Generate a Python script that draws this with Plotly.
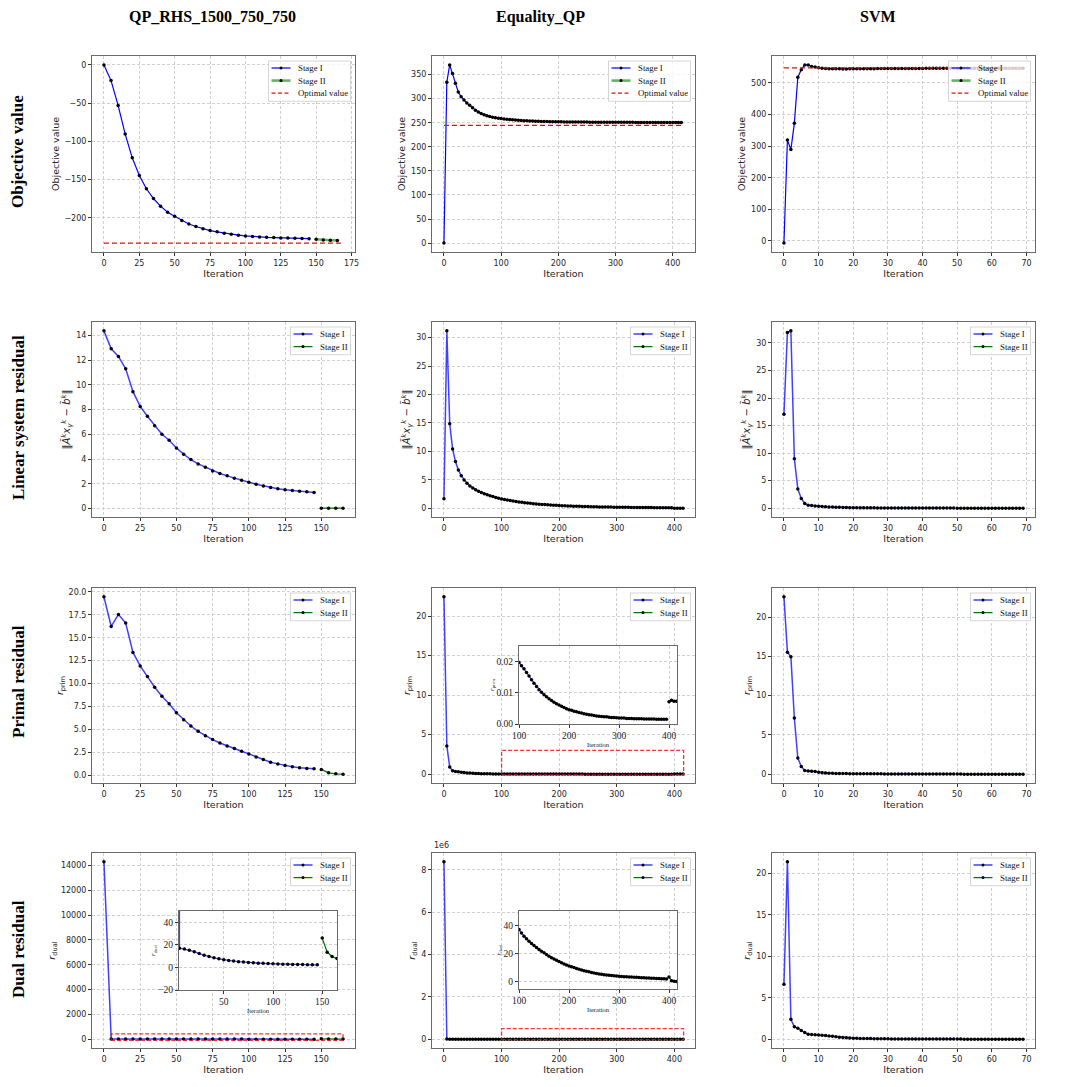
import plotly.graph_objects as go

# ---------------- data ----------------
# iteration grids
qp_it_s1 = list(range(0, 150, 5))
qp_it_s2 = list(range(150, 170, 5))
eq_it_s1 = list(range(0, 400, 5))
eq_it_s2 = list(range(400, 420, 5))
svm_it_s1 = list(range(0, 50))
svm_it_s2 = list(range(50, 70))

# Objective value
qp_obj_s1 = [0, -20.5, -53, -90.5, -121.5, -144.5, -162, -174.7, -184.7, -192.6,
             -198, -203.5, -208, -211.3, -214.4, -216.6, -218.3, -220, -221.4, -222.7,
             -223.6, -224.5, -225, -225.4, -225.8, -226.2, -226.5, -226.7, -227, -227.2]
qp_obj_s2 = [-228, -229, -229.3, -229.5]
qp_opt = -233
qp_opt_x = [0, 169]

eq_obj_s1 = [0, 334, 370, 352, 332, 314, 304, 297, 291, 286,
             281, 276, 272, 269, 266.5, 264.5, 263, 261.5, 260.2, 259.3,
             258.5, 257.7, 257, 256.4, 255.9, 255.4, 255, 254.6, 254.2, 253.9,
             253.6, 253.3, 253.1, 252.9, 252.7, 252.5, 252.3, 252.2, 252.1, 252,
             251.9, 251.8, 251.7, 251.6, 251.5, 251.5, 251.4, 251.3, 251.3, 251.2,
             251.2, 251.1, 251.1, 251, 251, 251, 250.9, 250.9, 250.9, 250.8,
             250.8, 250.8, 250.8, 250.7, 250.7, 250.7, 250.7, 250.6, 250.6, 250.6,
             250.6, 250.6, 250.5, 250.5, 250.5, 250.5, 250.5, 250.5, 250.5, 250.4]
eq_obj_s2 = [250.4, 250.4, 250.4, 250.4]
eq_opt = 244.3
eq_opt_x = [0, 418]

svm_obj_s1 = [-7, 319, 289, 372, 518, 542, 557, 557, 552, 550,
              548, 546.5, 545.5, 545, 544.8, 544.6, 544.5, 544.4, 544.4, 544.5,
              544.6, 544.7, 544.8, 544.9, 545, 545.1, 545.2, 545.3, 545.4, 545.5,
              545.6, 545.6, 545.7, 545.7, 545.8, 545.8, 545.9, 545.9, 546, 546,
              546, 546.1, 546.1, 546.1, 546.2, 546.2, 546.2, 546.3, 546.3, 546.3]
svm_obj_s2 = [546.4, 546.4, 546.4, 546.5, 546.5, 546.5, 546.5, 546.5, 546.6, 546.6,
              546.6, 546.6, 546.6, 546.6, 546.7, 546.7, 546.7, 546.7, 546.7, 546.7]
svm_opt = 547.5
svm_opt_x = [0, 69]

# Linear system residual
qp_lin_s1 = [14.37, 12.92, 12.3, 11.3, 9.45, 8.26, 7.46, 6.7, 6.0, 5.52,
             4.9, 4.39, 3.96, 3.61, 3.34, 3.04, 2.83, 2.64, 2.45, 2.29,
             2.13, 1.97, 1.83, 1.7, 1.59, 1.51, 1.45, 1.4, 1.35, 1.29]
qp_lin_s2 = [0.03, 0.03, 0.03, 0.03]

eq_lin_s1 = [1.64, 31.2, 14.85, 10.4, 8.2, 6.7, 5.73, 4.97, 4.39, 3.92,
             3.55, 3.25, 2.98, 2.75, 2.55, 2.37, 2.2, 2.05, 1.9, 1.77,
             1.63, 1.53, 1.43, 1.34, 1.25, 1.17, 1.1, 1.03, 0.97, 0.91,
             0.85, 0.8, 0.75, 0.71, 0.67, 0.63, 0.59, 0.56, 0.53, 0.5,
             0.47, 0.45, 0.42, 0.4, 0.38, 0.36, 0.34, 0.32, 0.31, 0.29,
             0.28, 0.27, 0.25, 0.24, 0.23, 0.22, 0.21, 0.2, 0.19, 0.18,
             0.17, 0.165, 0.16, 0.15, 0.145, 0.14, 0.13, 0.125, 0.12, 0.115,
             0.11, 0.105, 0.1, 0.097, 0.094, 0.09, 0.087, 0.084, 0.081, 0.078]
eq_lin_s2 = [0.01, 0.01, 0.01, 0.01]

svm_lin_s1 = [17.06, 31.9, 32.2, 9.0, 3.5, 1.75, 0.85, 0.55, 0.5, 0.42,
              0.36, 0.3, 0.26, 0.23, 0.2, 0.18, 0.15, 0.13, 0.11, 0.1,
              0.09, 0.085, 0.08, 0.075, 0.07, 0.065, 0.06, 0.056, 0.053, 0.05,
              0.047, 0.045, 0.043, 0.041, 0.039, 0.037, 0.035, 0.034, 0.033, 0.032,
              0.031, 0.03, 0.029, 0.028, 0.027, 0.026, 0.025, 0.024, 0.023, 0.022]
svm_lin_s2 = [0.012, 0.012, 0.011, 0.011, 0.011, 0.011, 0.01, 0.01, 0.01, 0.01,
              0.01, 0.01, 0.01, 0.01, 0.01, 0.01, 0.01, 0.01, 0.01, 0.01]

# Primal residual
qp_prim_s1 = [19.46, 16.23, 17.54, 16.6, 13.4, 11.92, 10.76, 9.6, 8.62, 7.79,
              6.81, 6.05, 5.36, 4.78, 4.31, 3.88, 3.51, 3.19, 2.9, 2.61,
              2.32, 1.99, 1.7, 1.41, 1.23, 1.05, 0.91, 0.8, 0.72, 0.69]
qp_prim_s2 = [0.62, 0.25, 0.14, 0.11]

eq_prim_s1 = [22.43, 3.57, 0.92, 0.42, 0.34, 0.29, 0.25, 0.2, 0.16, 0.13,
              0.105, 0.085, 0.07, 0.058, 0.048, 0.041, 0.035, 0.03, 0.026, 0.022,
              0.0197, 0.0187, 0.0177, 0.0165, 0.0154, 0.0142, 0.0131, 0.0120, 0.0110, 0.0102,
              0.0094, 0.0087, 0.0081, 0.0075, 0.0070, 0.0065, 0.0061, 0.0057, 0.0053, 0.0049,
              0.0046, 0.0044, 0.0041, 0.0039, 0.0037, 0.0035, 0.0033, 0.0031, 0.0030, 0.0029,
              0.0027, 0.0026, 0.0025, 0.0024, 0.0023, 0.0023, 0.0022, 0.0021, 0.0021, 0.0020,
              0.0019, 0.0019, 0.0019, 0.0018, 0.0018, 0.0018, 0.0017, 0.0017, 0.0017, 0.0017,
              0.0016, 0.0016, 0.0016, 0.0016, 0.0016, 0.0015, 0.0015, 0.0015, 0.0015, 0.0015]
eq_prim_s2 = [0.0071, 0.0076, 0.0073, 0.0073]

svm_prim_s1 = [22.58, 15.52, 14.97, 7.15, 2.07, 0.97, 0.47, 0.42, 0.38, 0.33,
               0.25, 0.2, 0.15, 0.12, 0.11, 0.1, 0.09, 0.085, 0.08, 0.075,
               0.07, 0.066, 0.062, 0.058, 0.055, 0.052, 0.049, 0.046, 0.044, 0.042,
               0.04, 0.038, 0.036, 0.035, 0.034, 0.033, 0.032, 0.031, 0.03, 0.029,
               0.028, 0.027, 0.026, 0.025, 0.024, 0.023, 0.022, 0.021, 0.02, 0.02]
svm_prim_s2 = [0.012, 0.012, 0.011, 0.011, 0.011, 0.011, 0.01, 0.01, 0.01, 0.01,
               0.01, 0.01, 0.01, 0.01, 0.01, 0.01, 0.01, 0.01, 0.01, 0.01]

# Dual residual
qp_dual_s1 = [14300, 17, 16.3, 15.3, 14, 12.3, 10.8, 9.6, 8.5, 7.6,
              6.8, 6.2, 5.6, 5.1, 4.7, 4.4, 4.1, 3.8, 3.6, 3.4,
              3.2, 3.0, 2.9, 2.8, 2.7, 2.6, 2.5, 2.4, 2.35, 2.3]
qp_dual_s2 = [26, 13.5, 9.6, 8]

eq_dual_s1 = [8.38e6, 3000, 400, 200, 140, 110, 95, 85, 77, 70,
              64, 59, 55, 51, 48, 45, 43, 41, 39.5, 38,
              36.9, 34.5, 32.2, 30.4, 28.7, 27.1, 25.6, 24.2, 22.8, 21.6,
              20.5, 19.3, 18.1, 17.1, 16.2, 15.3, 14.4, 13.5, 12.7, 12.0,
              11.3, 10.7, 10.1, 9.5, 8.9, 8.4, 7.9, 7.5, 7.1, 6.7,
              6.3, 6.0, 5.6, 5.4, 5.1, 4.9, 4.7, 4.5, 4.3, 4.1,
              4.0, 3.9, 3.7, 3.6, 3.5, 3.4, 3.3, 3.2, 3.1, 3.0,
              2.9, 2.8, 2.7, 2.6, 2.5, 2.45, 2.4, 2.3, 2.2, 2.1]
eq_dual_s2 = [3.5, 0.9, 0.5, 0.3]

svm_dual_s1 = [6.63, 21.4, 2.41, 1.49, 1.33, 1.04, 0.8, 0.6, 0.56, 0.55,
               0.52, 0.48, 0.45, 0.4, 0.35, 0.3, 0.25, 0.2, 0.17, 0.15,
               0.13, 0.115, 0.1, 0.09, 0.08, 0.072, 0.065, 0.058, 0.052, 0.047,
               0.043, 0.04, 0.037, 0.034, 0.032, 0.03, 0.028, 0.026, 0.025, 0.024,
               0.023, 0.022, 0.021, 0.02, 0.019, 0.018, 0.017, 0.016, 0.016, 0.015]
svm_dual_s2 = [0.012, 0.012, 0.011, 0.011, 0.011, 0.011, 0.01, 0.01, 0.01, 0.01,
               0.01, 0.01, 0.01, 0.01, 0.01, 0.01, 0.01, 0.01, 0.01, 0.01]

column_titles = ["QP_RHS_1500_750_750", "Equality_QP", "SVM"]
row_titles = ["Objective value", "Linear system residual", "Primal residual", "Dual residual"]
y_titles = ["Objective value",
            "‖<i>Ã</i><sup><i>k</i></sup><i>x</i><sub><i>γ</i></sub><sup><i>k</i></sup> − <i>b̃</i><sup><i>k</i></sup>‖",
            "<i>r</i><sub>prim</sub>",
            "<i>r</i><sub>dual</sub>"]
stage_names = ["Stage I", "Stage II"]
opt_name = "Optimal value"

its = [(qp_it_s1, qp_it_s2), (eq_it_s1, eq_it_s2), (svm_it_s1, svm_it_s2)]
series = [
    [(qp_obj_s1, qp_obj_s2), (eq_obj_s1, eq_obj_s2), (svm_obj_s1, svm_obj_s2)],
    [(qp_lin_s1, qp_lin_s2), (eq_lin_s1, eq_lin_s2), (svm_lin_s1, svm_lin_s2)],
    [(qp_prim_s1, qp_prim_s2), (eq_prim_s1, eq_prim_s2), (svm_prim_s1, svm_prim_s2)],
    [(qp_dual_s1, qp_dual_s2), (eq_dual_s1, eq_dual_s2), (svm_dual_s1, svm_dual_s2)],
]
optimal = [(qp_opt, qp_opt_x), (eq_opt, eq_opt_x), (svm_opt, svm_opt_x)]

# ---------------- layout geometry (pixels) ----------------
W, H = 1079, 1087
col_px = [(92, 355), (432, 695), (772, 1035)]
row_px = [(56, 252), (322, 517), (588, 783), (853, 1048)]


def px_x(v):
    return v / W


def px_y(v):
    return 1 - v / H


def xdom(a, b):
    return [px_x(a), px_x(b)]


def ydom(t, b):
    return [px_y(b), px_y(t)]


def mpl_range(vals):
    lo, hi = min(vals), max(vals)
    pad = 0.05 * (hi - lo)
    return [lo - pad, hi + pad]


x_ticks = [list(range(0, 176, 25)), list(range(0, 401, 100)), list(range(0, 71, 10))]
y_ticks = [
    [list(range(-200, 1, 50)), list(range(0, 351, 50)), list(range(0, 501, 100))],
    [list(range(0, 15, 2)), list(range(0, 31, 5)), list(range(0, 31, 5))],
    [[i * 2.5 for i in range(9)], list(range(0, 21, 5)), list(range(0, 21, 5))],
    [list(range(0, 14001, 2000)), [0, 2e6, 4e6, 6e6, 8e6], list(range(0, 21, 5))],
]

SANS = "DejaVu Sans"
SERIF = "Liberation Serif"

axis_common = dict(showline=True, mirror=True, linecolor="#6a6a6a", linewidth=1,
                   ticks="outside", ticklen=3, tickwidth=0.8, tickcolor="#333333",
                   showgrid=True, gridcolor="#d0d0d0", griddash="3px,2px", gridwidth=0.7,
                   zeroline=False, automargin=False,
                   tickfont=dict(family=SANS, size=8, color="#262626"))

fig = go.Figure()
layout = {}
annotations = []
shapes = []

BLUE1 = "#0000ff"
BLUE = "rgba(0,0,255,0.75)"
GREEN = "#007a00"
GREEN1 = "rgba(0,128,0,0.6)"
RED = "#e01010"


def add_legend(right, top, entries):
    """Hand-drawn matplotlib-style legend in pixel coordinates."""
    width = 82 if len(entries) == 3 else 60
    step = 12.6
    left = right - width
    height = step * len(entries) + 2.5
    shapes.append(dict(type="rect", xref="paper", yref="paper", layer="above",
                       x0=px_x(left), x1=px_x(right), y0=px_y(top + height), y1=px_y(top),
                       fillcolor="rgba(255,255,255,0.8)", line=dict(color="#cccccc", width=0.8)))
    for n, (label, color, lw, dash, marker) in enumerate(entries):
        yc = top + 7.0 + step * n
        shapes.append(dict(type="line", xref="paper", yref="paper", layer="above",
                           x0=px_x(left + 3), x1=px_x(left + 22), y0=px_y(yc), y1=px_y(yc),
                           line=dict(color=color, width=lw, dash=dash)))
        if marker:
            shapes.append(dict(type="circle", xref="paper", yref="paper", layer="above",
                               x0=px_x(left + 11), x1=px_x(left + 14),
                               y0=px_y(yc + 1.5), y1=px_y(yc - 1.5),
                               fillcolor="black", line=dict(width=0)))
        annotations.append(dict(text=label, x=px_x(left + 28.5), y=px_y(yc), xref="paper", yref="paper",
                                showarrow=False, xanchor="left", yanchor="middle", borderpad=0,
                                font=dict(family=SERIF, size=8.8, color="#111111")))


for r in range(4):
    for c in range(3):
        i = r * 3 + c + 1
        sfx = "" if i == 1 else str(i)
        xa, ya = "x" + sfx, "y" + sfx
        s1, s2 = series[r][c]
        it1, it2 = its[c]
        if r == 0:
            b_line = dict(color=BLUE1, width=1.2)
            g_line = dict(color=GREEN1, width=2.6)
        else:
            b_line = dict(color=BLUE, width=1.5)
            g_line = dict(color=GREEN, width=1.3)
        fig.add_trace(go.Scatter(x=it1, y=s1, mode="lines+markers", name=stage_names[0],
                                 line=b_line, marker=dict(color="black", size=3.5),
                                 xaxis=xa, yaxis=ya, showlegend=False))
        fig.add_trace(go.Scatter(x=it2, y=s2, mode="lines+markers", name=stage_names[1],
                                 line=g_line, marker=dict(color="black", size=3.5),
                                 xaxis=xa, yaxis=ya, showlegend=False))
        xs = list(it1) + list(it2)
        ys = list(s1) + list(s2)
        entries = [(stage_names[0], b_line["color"], b_line["width"], "solid", True),
                   (stage_names[1], g_line["color"], g_line["width"], "solid", True)]
        if r == 0:
            ov, ox = optimal[c]
            fig.add_trace(go.Scatter(x=ox, y=[ov, ov], mode="lines", name=opt_name,
                                     line=dict(color=RED, width=1.2, dash="5px,3px"),
                                     xaxis=xa, yaxis=ya, showlegend=False))
            xs += ox
            ys += [ov]
            entries.append((opt_name, RED, 1.2, "4px,2.5px", False))
        x0, x1 = col_px[c]
        t, b = row_px[r]
        xax = dict(axis_common, domain=xdom(x0, x1), anchor=ya, range=mpl_range(xs),
                   tickvals=x_ticks[c],
                   title=dict(text="Iteration", standoff=3,
                              font=dict(family=SANS, size=9.5, color="#262626")))
        ysize = 10 if r == 1 else 9.5
        yax = dict(axis_common, domain=ydom(t, b), anchor=xa, range=mpl_range(ys),
                   tickvals=y_ticks[r][c],
                   title=dict(text=y_titles[r], standoff=3,
                              font=dict(family=SANS, size=ysize, color="#262626")))
        if r == 2 and c == 0:
            yax["tickformat"] = ".1f"
        if r == 3 and c == 0:
            yax["tickformat"] = "d"
        if r == 3 and c == 1:
            yax["ticktext"] = ["0", "2", "4", "6", "8"]
        layout["xaxis" + sfx] = xax
        layout["yaxis" + sfx] = yax
        add_legend(x1 - 4.5, t + 5, entries)

# ---------------- insets ----------------
insets = [
    dict(r=2, c=1, box=(519, 677, 646, 724), xr=[100, 416], yr=[0, 0.025],
         yt=[0, 0.01, 0.02], xt=[100, 200, 300, 400], fmt=".2f",
         rect=([100, 416], [-0.1, 3.0])),
    dict(r=3, c=0, box=(179, 337, 911, 990), xr=[4.5, 165], yr=[-20, 50],
         yt=[-20, 0, 20, 40], xt=[50, 100, 150], fmt=None,
         rect=([5, 165], [-90, 420])),
    dict(r=3, c=1, box=(519, 677, 911, 989), xr=[100, 416], yr=[-5, 50],
         yt=[0, 20, 40], xt=[100, 200, 300, 400], fmt=None,
         rect=([100, 416], [-2e4, 5e5])),
]
for k, ins in enumerate(insets):
    j = 13 + k
    xa, ya = "x%d" % j, "y%d" % j
    r, c = ins["r"], ins["c"]
    s1, s2 = series[r][c]
    it1, it2 = its[c]
    fig.add_trace(go.Scatter(x=it1, y=s1, mode="lines+markers", showlegend=False,
                             line=dict(color=BLUE, width=1.3), marker=dict(color="black", size=3.5),
                             xaxis=xa, yaxis=ya))
    fig.add_trace(go.Scatter(x=it2, y=s2, mode="lines+markers", showlegend=False,
                             line=dict(color=GREEN, width=1.3), marker=dict(color="black", size=3.5),
                             xaxis=xa, yaxis=ya))
    x0, x1, t, b = ins["box"]
    ia = dict(axis_common, tickfont=dict(family=SERIF, size=9.5, color="#222222"))
    layout["xaxis%d" % j] = dict(ia, domain=xdom(x0, x1), anchor=ya, range=ins["xr"],
                                 tickvals=ins["xt"],
                                 title=dict(text="Iteration", standoff=2,
                                            font=dict(family=SERIF, size=6.5, color="#222222")))
    yd = dict(ia, domain=ydom(t, b), anchor=xa, range=ins["yr"], tickvals=ins["yt"],
              title=dict(text=y_titles[r], standoff=1,
                         font=dict(family=SERIF, size=7, color="#222222")))
    if ins["fmt"]:
        yd["tickformat"] = ins["fmt"]
    layout["yaxis%d" % j] = yd
    host = r * 3 + c + 1
    (rx0, rx1), (ry0, ry1) = ins["rect"]
    shapes.append(dict(type="rect", xref="x%d" % host, yref="y%d" % host,
                       x0=rx0, x1=rx1, y0=ry0, y1=ry1,
                       line=dict(color="rgba(235,20,20,0.85)", width=1.3, dash="4px,2px")))

# ---------------- titles ----------------
col_title_px = [212, 540, 878]
for c, txt in enumerate(column_titles):
    annotations.append(dict(text="<b>%s</b>" % txt, x=px_x(col_title_px[c]), y=px_y(17),
                            xref="paper", yref="paper", showarrow=False,
                            xanchor="center", yanchor="middle",
                            font=dict(family=SERIF, size=16, color="black")))
row_title_px = [152, 418, 682, 949]
for r, txt in enumerate(row_titles):
    annotations.append(dict(text="<b>%s</b>" % txt, x=px_x(18), y=px_y(row_title_px[r]),
                            xref="paper", yref="paper", showarrow=False, textangle=-90,
                            xanchor="center", yanchor="middle",
                            font=dict(family=SERIF, size=17, color="black")))
annotations.append(dict(text="1e6", x=px_x(432), y=px_y(852), xref="paper", yref="paper",
                        showarrow=False, xanchor="left", yanchor="bottom",
                        font=dict(family=SANS, size=8, color="#262626")))

fig.update_layout(**layout)
fig.update_layout(width=W, height=H, margin=dict(l=0, r=0, t=0, b=0),
                  template="none", paper_bgcolor="white", plot_bgcolor="white",
                  showlegend=False, annotations=annotations, shapes=shapes)

fig.write_html("out.html", config={"displayModeBar": False},
               post_script="document.body.style.margin='0px';document.body.style.padding='0px';"
                           "document.body.style.overflow='hidden';")
